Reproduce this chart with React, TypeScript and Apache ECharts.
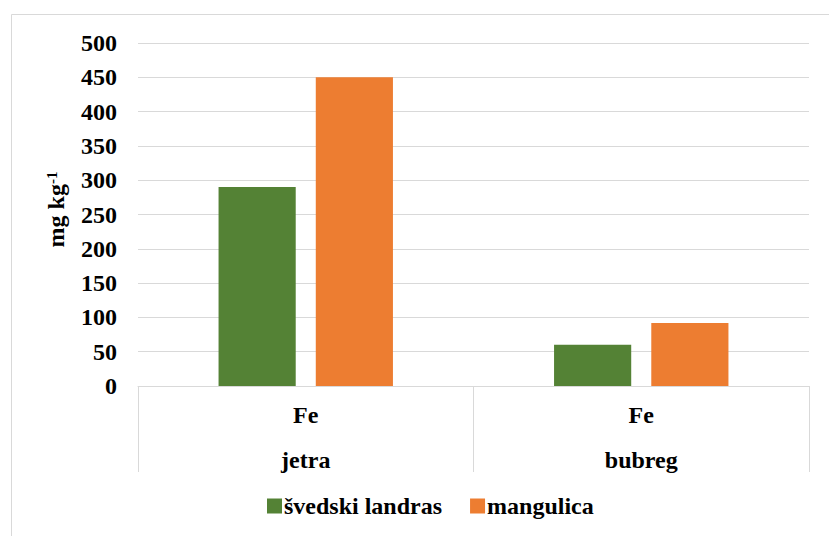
import React, { useEffect, useRef } from "react";
import * as echarts from "echarts";

const groups = ["jetra", "bubreg"];
const elements = ["Fe", "Fe"];
const seriesNames = ["švedski landras", "mangulica"];
const landras = [290, 60];
const mangulica = [450, 92];
const yTicks = { min: 0, max: 500, interval: 50 };
const colors = ["#548235", "#ED7D31"];

export default function App() {
  const ref = useRef<HTMLDivElement>(null);
  useEffect(() => {
    const chart = echarts.init(ref.current!, null, { renderer: "svg" });
    const font = "Liberation Serif";
    const txt = { fontFamily: font, fontSize: 24, fontWeight: "bold" as const, color: "#000" };
    chart.setOption({
      animation: false,
      backgroundColor: "#ffffff",
      textStyle: { fontFamily: font },
      graphic: [
        {
          type: "rect",
          shape: { x: 11.5, y: 14.5, width: 830, height: 540 },
          style: { fill: "none", stroke: "#d9d9d9", lineWidth: 1 },
          silent: true,
        },
      ],
      grid: { left: 138, right: 20, top: 43, bottom: 150, containLabel: false },
      legend: {
        top: 489,
        left: 262,
        itemWidth: 15,
        itemHeight: 15,
        itemGap: 28,
        icon: "rect",
        textStyle: { ...txt, padding: [0, 0, 0, -3] },
        data: seriesNames,
      },
      xAxis: {
        type: "category",
        data: groups,
        axisLine: { lineStyle: { color: "#d9d9d9", width: 1 } },
        axisTick: { show: true, length: 86, lineStyle: { color: "#d9d9d9", width: 1 } },
        axisLabel: {
          margin: 6,
          ...txt,
          formatter: (v: string, i: number) => `{a|${elements[i]}}\n{b|${v}}`,
          rich: {
            a: { ...txt, lineHeight: 45 },
            b: { ...txt, lineHeight: 45 },
          },
        },
      },
      yAxis: {
        type: "value",
        min: yTicks.min,
        max: yTicks.max,
        interval: yTicks.interval,
        name: "mg kg{sup|-1}",
        nameLocation: "middle",
        nameGap: 70,
        nameRotate: 90,
        nameTextStyle: {
          ...txt,
          padding: [0, 0, 0, 10],
          rich: {
            sup: { ...txt, fontSize: 15, verticalAlign: "top", lineHeight: 24 },
          },
        },
        axisLine: { show: false },
        axisTick: { show: false },
        splitLine: { lineStyle: { color: "#d9d9d9", width: 1 } },
        axisLabel: { margin: 21, ...txt },
      },
      series: [
        {
          name: seriesNames[0],
          type: "bar",
          data: landras,
          itemStyle: { color: colors[0] },
          barWidth: "23%",
          barGap: "26%",
        },
        {
          name: seriesNames[1],
          type: "bar",
          data: mangulica,
          itemStyle: { color: colors[1] },
          barWidth: "23%",
          barGap: "26%",
        },
      ],
    });
    return () => chart.dispose();
  }, []);
  return (
    <div
      ref={ref}
      style={{ position: "absolute", left: 0, top: 0, width: 829, height: 536 }}
    />
  );
}
